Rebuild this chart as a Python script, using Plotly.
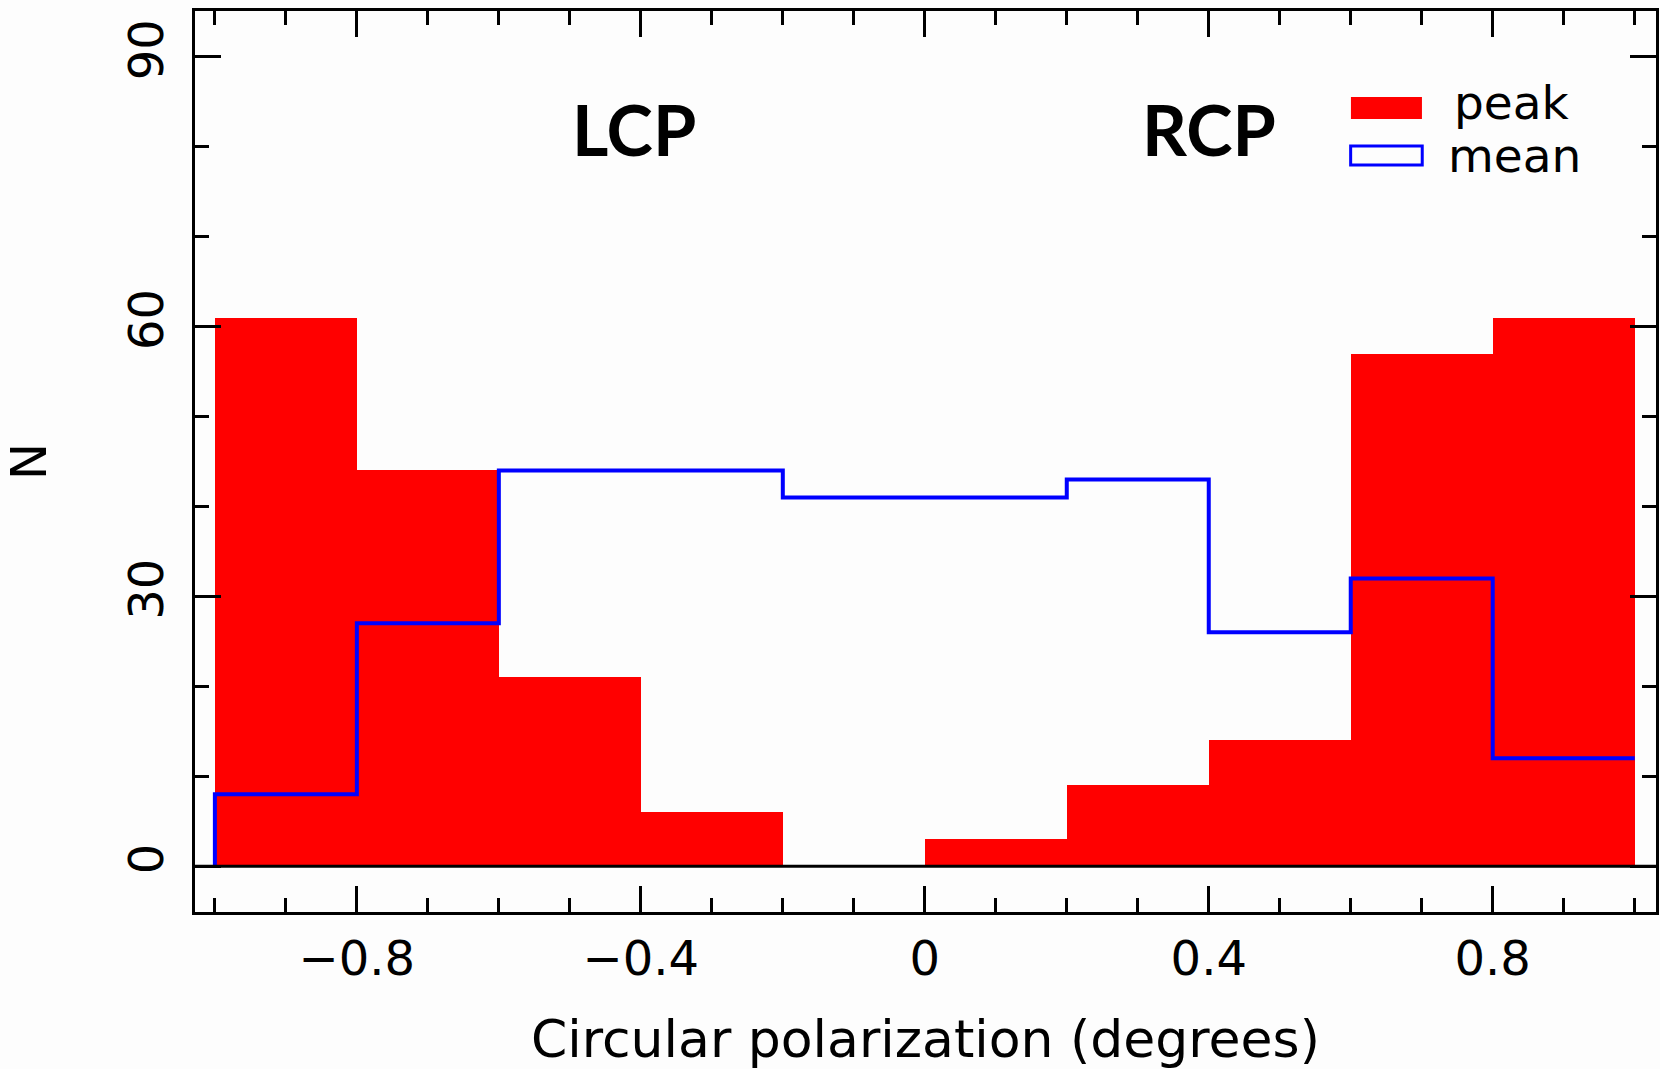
import plotly.graph_objects as go

# ---- data ----
bin_edges = [-1.0, -0.8, -0.6, -0.4, -0.2, 0.0, 0.2, 0.4, 0.6, 0.8, 1.0]
peak_counts = [61, 44, 21, 6, 0, 3, 9, 14, 57, 61]
mean_counts = [8, 27, 44, 44, 41, 41, 43, 26, 32, 12]
x_ticks = [-0.8, -0.4, 0, 0.4, 0.8]
x_tick_labels = ["\u22120.8", "\u22120.4", "0", "0.4", "0.8"]
y_ticks = [0, 30, 60, 90]
labels = ["LCP", "RCP"]
label_x = [-0.41, 0.40]
label_y = [82, 82]

centers = [(a + b) / 2 for a, b in zip(bin_edges[:-1], bin_edges[1:])]
widths = [b - a for a, b in zip(bin_edges[:-1], bin_edges[1:])]

fig = go.Figure()
fig.add_trace(go.Bar(
    x=centers, y=peak_counts, width=widths, name="peak",
    marker=dict(color="#ff0000", line=dict(width=0)),
    showlegend=False,
))
# step outline of the mean histogram
step_x = [bin_edges[0]] + bin_edges[:-1] + [bin_edges[-1]]
step_y = [0] + mean_counts + [mean_counts[-1]]
fig.add_trace(go.Scatter(
    x=step_x, y=step_y, mode="lines", name="mean",
    line=dict(color="#0000ff", width=4, shape="hv"),
    showlegend=False,
))

FONT = "DejaVu Sans"

# zero line across the plot
fig.add_shape(type="line", xref="paper", x0=0, x1=1, yref="y", y0=0, y1=0,
              line=dict(color="black", width=3), layer="above")

# manual legend
fig.add_shape(type="rect", xref="paper", yref="paper",
              x0=0.7912, x1=0.8398, y0=0.8801, y1=0.9046,
              fillcolor="#ff0000", line=dict(width=0))
fig.add_shape(type="rect", xref="paper", yref="paper",
              x0=0.7910, x1=0.8400, y0=0.8291, y1=0.8502,
              fillcolor="rgba(0,0,0,0)", line=dict(color="#0000ff", width=3))
fig.add_annotation(xref="paper", yref="paper", x=0.8604, y=0.8985,
                   text="peak", showarrow=False, xanchor="left", yanchor="middle",
                   font=dict(family=FONT, size=47, color="black"))
fig.add_annotation(xref="paper", yref="paper", x=0.8563, y=0.8395,
                   text="mean", showarrow=False, xanchor="left", yanchor="middle",
                   font=dict(family=FONT, size=47, color="black"))

for t, xx, yy in zip(labels, label_x, label_y):
    fig.add_annotation(x=xx, y=yy, text="<b>" + t + "</b>", showarrow=False,
                       xanchor="center", yanchor="middle",
                       font=dict(family="Lato", size=70, color="black"))

fig.update_xaxes(
    range=[-1.028, 1.030],
    tickmode="array", tickvals=x_ticks, ticktext=x_tick_labels,
    ticks="inside", ticklen=26, tickwidth=3, tickcolor="black",
    minor=dict(dtick=0.1, tick0=0, ticks="inside", ticklen=14, tickwidth=3,
               tickcolor="black", showgrid=False),
    showline=True, linecolor="black", linewidth=3, mirror="ticks",
    showgrid=False, zeroline=False,
    tickfont=dict(family=FONT, size=48, color="black"),
    ticklabelstandoff=2,
    title=dict(text="Circular polarization (degrees)",
               font=dict(family=FONT, size=52, color="black"), standoff=39),
)
fig.update_yaxes(
    range=[-5.1, 95.1],
    tickmode="array", tickvals=y_ticks, ticktext=[str(v) for v in y_ticks],
    ticks="inside", ticklen=26, tickwidth=3, tickcolor="black",
    minor=dict(dtick=10, tick0=0, ticks="inside", ticklen=14, tickwidth=3,
               tickcolor="black", showgrid=False),
    showline=True, linecolor="black", linewidth=3, mirror="ticks",
    showgrid=False, zeroline=False, tickangle=-90,
    tickfont=dict(family=FONT, size=48, color="black"),
    ticklabelstandoff=10,
    title=dict(text="N", font=dict(family=FONT, size=50, color="black"), standoff=67),
)

fig.update_layout(
    width=1660, height=1069,
    margin=dict(l=195, r=4, t=11, b=157, autoexpand=False),
    paper_bgcolor="#fdfdfd", plot_bgcolor="#fdfdfd",
    bargap=0, showlegend=False,
)

fig.write_html("out.html")
